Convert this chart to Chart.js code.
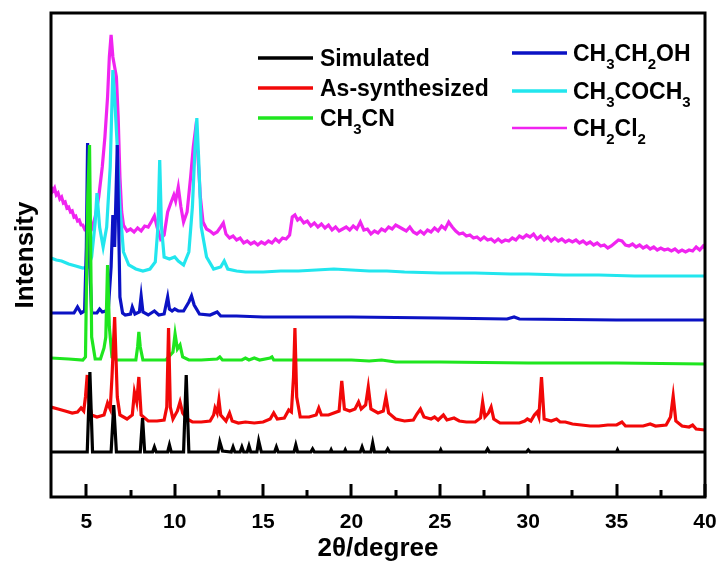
<!DOCTYPE html>
<html>
<head>
<meta charset="utf-8">
<title>PXRD patterns</title>
<script src="https://cdn.jsdelivr.net/npm/chart.js@4.4.1/dist/chart.umd.min.js"></script>
<style>
  body { margin: 0; background: #fff; }
  #wrap { width: 719px; height: 568px; }
</style>
</head>
<body>
<div id="wrap"><canvas id="xrdChart" width="719" height="568"></canvas></div>
<script>
// x ticks (2theta), major labelled + minor unlabelled
const xTicks = [5, 10, 15, 20, 25, 30, 35, 40];
const xMinorTicks = [7.5, 12.5, 17.5, 22.5, 27.5, 32.5, 37.5];

const seriesNames = ["Simulated", "As-synthesized", "CH₃CN", "CH₃CH₂OH", "CH₃COCH₃", "CH₂Cl₂"];
const seriesColors = ["#000000", "#f20808", "#1fe61f", "#0b12c4", "#22e6ee", "#f024f0"];

// [2theta, intensity (offset, a.u.)]
const simulated = [[3,45],[5.05,45],[5.2,125],[5.35,45],[6.4,45],[6.55,92],[6.7,45],[8.05,45],[8.18,79],[8.3,45],
  [8.75,45],[8.85,50],[8.95,45],[9.6,45],[9.7,52],[9.8,45],[10.5,45],[10.65,122],[10.8,45],[12.45,45],[12.55,55],
  [12.7,46],[13.2,45],[13.3,50],[13.4,45],[13.7,45],[13.8,50],[13.9,45],[14.1,45],[14.2,51],[14.3,45],[14.65,45],
  [14.75,56],[14.9,45],[15.65,45],[15.75,50],[15.85,45],[16.75,45],[16.85,52],[16.95,45],[17.7,45],[17.8,48],
  [17.9,45],[18.8,45],[18.85,47],[18.9,45],[19.6,45],[19.65,47],[19.7,45],[20.5,45],[20.6,50],[20.7,45],[21.1,45],
  [21.2,54],[21.3,45],[21.95,45],[22.05,48],[22.15,45],[25,45],[25.05,47],[25.1,45],[27.6,45],[27.7,48],[27.8,45],
  [29.9,45],[30.0,47],[30.1,45],[35,45],[35.05,47],[35.1,45],[40,45]];

const asSynthesized = [[3,90],[3.4,88],[3.8,86],[4.2,84],[4.5,85],[4.7,89],[4.85,86],[4.95,100],[5.05,122],[5.15,95],
  [5.3,82],[5.6,80],[6.0,82],[6.2,94],[6.35,88],[6.45,120],[6.6,180],[6.75,100],[6.9,82],[7.3,78],[7.6,82],[7.72,105],
  [7.85,95],[7.97,120],[8.1,82],[8.5,76],[9.0,76],[9.4,77],[9.55,90],[9.65,169],[9.75,90],[9.9,78],[10.15,86],
  [10.3,95],[10.45,84],[10.7,78],[11.0,75],[11.5,75],[12.0,76],[12.2,82],[12.28,89],[12.4,84],[12.5,97],[12.6,82],
  [12.9,76],[13.1,84],[13.25,76],[13.6,74],[14.0,75],[14.5,74],[15.0,75],[15.4,78],[15.6,84],[15.8,78],[16.2,79],
  [16.45,87],[16.6,85],[16.72,120],[16.8,169],[16.9,100],[17.1,80],[17.6,80],[18.0,82],[18.15,89],[18.3,82],
  [18.7,82],[19.0,84],[19.3,86],[19.45,116],[19.6,88],[19.9,86],[20.2,88],[20.4,95],[20.55,88],[20.8,92],[20.95,110],
  [21.1,88],[21.5,84],[21.8,86],[21.95,100],[22.1,84],[22.5,78],[23.0,76],[23.5,77],[23.7,83],[23.9,88],[24.1,80],
  [24.5,78],[24.7,80],[24.9,77],[25.2,82],[25.4,77],[25.8,79],[26.1,76],[26.5,75],[27.0,75],[27.3,79],[27.42,95],
  [27.55,80],[27.75,84],[27.9,90],[28.05,78],[28.4,74],[29.0,74],[29.5,74],[29.8,76],[29.95,78],[30.15,76],
  [30.35,82],[30.5,85],[30.6,80],[30.75,120],[30.9,78],[31.3,76],[31.6,78],[31.8,75],[32.1,75],[32.5,73],[33.0,72],
  [33.5,71],[34.0,71],[34.5,72],[35.0,72],[35.3,75],[35.5,71],[36.0,71],[36.5,71],[36.9,73],[37.2,71],[37.8,72],
  [38.05,80],[38.2,101],[38.35,76],[38.7,71],[39.1,70],[39.3,72],[39.5,68],[40,67]];

const acetonitrile = [[3,139],[4.0,138],[4.8,137],[4.95,140],[5.08,300],[5.18,352],[5.3,160],[5.5,138],[5.8,138],
  [6.0,149],[6.1,160],[6.2,232],[6.3,170],[6.45,140],[6.7,137],[7.2,137],[7.8,137],[7.9,150],[7.97,165],[8.05,150],
  [8.2,137],[8.8,137],[9.5,137],[9.9,145],[10.02,163],[10.15,148],[10.3,152],[10.45,140],[10.8,137],[11.5,137],
  [12.4,138],[12.55,140],[12.7,137],[13.8,137],[14.0,139],[14.2,137],[14.5,139],[14.8,137],[15.4,139],[15.5,140],
  [15.6,137],[16.5,137],[17.5,137],[20,137],[21.0,136],[21.7,137],[22.5,135],[25,135],[30,134],[35,134],[40,133]];

const ethanol = [[3,184],[3.8,184],[4.3,184],[4.5,190],[4.7,184],[4.9,186],[5.0,250],[5.07,354],[5.15,250],[5.3,184],
  [5.6,184],[5.75,188],[5.9,185],[6.1,186],[6.25,190],[6.4,230],[6.5,282],[6.6,250],[6.75,352],[6.9,200],[7.05,184],
  [7.2,182],[7.5,183],[7.6,190],[7.75,183],[8.0,185],[8.1,201],[8.2,185],[8.5,182],[8.85,186],[9.1,182],[9.4,183],
  [9.6,200],[9.7,188],[9.85,186],[10.0,188],[10.2,186],[10.5,186],[10.8,195],[10.95,201],[11.1,192],[11.4,183],
  [12.0,182],[12.4,185],[12.6,181],[13.5,181],[15,180],[20,180],[25,179],[28.8,178],[29.2,180],[29.5,178],[35,177],
  [40,177]];

const acetone = [[3,239],[3.3,237],[3.6,236],[4.0,233],[4.4,231],[4.8,229],[5.1,230],[5.3,240],[5.5,275],[5.6,304],
  [5.75,270],[5.95,250],[6.15,270],[6.35,330],[6.5,427],[6.6,400],[6.75,350],[6.9,290],[7.1,245],[7.4,232],[7.8,228],
  [8.2,226],[8.6,228],[8.9,235],[9.05,270],[9.15,337],[9.25,270],[9.4,240],[9.7,238],[10.0,240],[10.2,236],[10.5,232],
  [10.8,245],[11.0,290],[11.15,350],[11.25,379],[11.35,340],[11.5,270],[11.8,240],[12.2,228],[12.6,230],[12.8,236],
  [13.0,228],[13.5,226],[14.0,225],[15,225],[16,226],[17,226],[18,227],[19,228],[20,227],[21,226],[22,226],[23,225],
  [25,224],[27,224],[29,223],[30,223],[32,222],[34,222],[36,221],[38,221],[40,221]];

const dichloromethane = [[3,310],[3.1,306],[3.2,309],[3.3,302],[3.4,304],[3.5,298],[3.6,300],[3.7,294],[3.8,295],
  [3.9,289],[4.0,290],[4.1,285],[4.2,286],[4.3,280],[4.4,281],[4.5,276],[4.6,277],[4.7,272],[4.8,272],[4.9,268],
  [5.0,270],[5.1,266],[5.2,269],[5.3,268],[5.4,274],[5.5,280],[5.7,300],[5.9,330],[6.05,360],[6.2,400],[6.3,440],
  [6.4,462],[6.5,440],[6.6,430],[6.7,420],[6.8,380],[6.9,320],[7.0,285],[7.1,272],[7.3,266],[7.5,268],[7.7,265],
  [7.9,269],[8.1,266],[8.3,271],[8.5,270],[8.7,276],[8.85,281],[9.0,270],[9.2,258],[9.4,262],[9.6,285],[9.8,295],
  [9.95,302],[10.05,296],[10.2,310],[10.35,290],[10.5,275],[10.7,285],[10.9,320],[11.05,350],[11.15,364],[11.3,345],
  [11.45,300],[11.6,275],[11.8,268],[12.0,266],[12.2,263],[12.4,265],[12.6,270],[12.75,274],[12.9,263],[13.1,259],
  [13.3,261],[13.5,257],[13.7,259],[13.9,254],[14.1,256],[14.3,253],[14.5,255],[14.7,252],[14.9,255],[15.1,253],
  [15.3,256],[15.5,254],[15.7,258],[15.9,255],[16.1,259],[16.3,258],[16.5,262],[16.65,280],[16.8,282],[16.95,277],
  [17.1,279],[17.3,274],[17.5,276],[17.7,271],[17.9,274],[18.1,270],[18.3,273],[18.5,269],[18.7,272],[18.9,267],
  [19.1,270],[19.3,266],[19.5,268],[19.7,270],[19.9,267],[20.1,271],[20.3,268],[20.5,275],[20.7,267],[20.9,268],
  [21.1,263],[21.3,266],[21.5,264],[21.7,268],[21.9,266],[22.1,270],[22.3,268],[22.5,272],[22.7,270],[22.9,268],
  [23.1,266],[23.3,270],[23.5,265],[23.7,263],[23.9,266],[24.1,263],[24.3,267],[24.5,265],[24.7,269],[24.9,266],
  [25.1,271],[25.3,268],[25.5,275],[25.7,270],[25.9,266],[26.1,263],[26.3,264],[26.5,261],[26.7,262],[26.9,259],
  [27.1,260],[27.3,257],[27.5,260],[27.7,257],[27.9,258],[28.1,255],[28.3,258],[28.5,255],[28.7,257],[28.9,256],
  [29.1,259],[29.3,257],[29.5,261],[29.7,259],[29.9,262],[30.1,260],[30.3,263],[30.5,258],[30.7,261],[30.9,257],
  [31.1,260],[31.3,256],[31.5,259],[31.7,256],[31.9,258],[32.1,255],[32.3,257],[32.5,255],[32.7,257],[32.9,254],
  [33.1,256],[33.3,253],[33.5,255],[33.7,252],[33.9,254],[34.1,251],[34.3,252],[34.5,249],[34.7,251],[34.9,254],
  [35.1,257],[35.3,256],[35.5,252],[35.7,251],[35.9,253],[36.1,250],[36.3,252],[36.5,249],[36.7,251],[36.9,248],
  [37.1,250],[37.3,247],[37.5,249],[37.7,247],[37.9,248],[38.1,246],[38.3,248],[38.5,245],[38.7,247],[38.9,245],
  [39.1,247],[39.3,246],[39.5,250],[39.7,247],[39.9,251],[40,249]];

const allSeries = [simulated, asSynthesized, acetonitrile, ethanol, acetone, dichloromethane];

const FONT = "'Liberation Sans', Arial, Helvetica, sans-serif";
const SUBS = { "₀": "0", "₁": "1", "₂": "2", "₃": "3", "₄": "4" };

// legend slots: [lineX0, lineX1, lineY, textX]
const legendSlots = [[258, 313, 58, 320], [258, 313, 88, 320], [258, 313, 118, 320],
  [512, 567, 53, 573], [512, 567, 91, 573], [512, 567, 128, 573]];

// draws text with unicode subscripts as smaller lowered digits
function drawChem(ctx, text, x, y) {
    let cx = x;
    for (const ch of text) {
        if (SUBS[ch]) {
            ctx.font = "bold 15px " + FONT;
            ctx.fillText(SUBS[ch], cx, y + 8);
            cx += ctx.measureText(SUBS[ch]).width;
        } else {
            ctx.font = "bold 23px " + FONT;
            ctx.fillText(ch, cx, y);
            cx += ctx.measureText(ch).width;
        }
    }
}

const framePlugin = {
    id: "frameAndLegend",
    afterDraw(chart) {
        const { ctx, chartArea: a, scales } = chart;
        const xs = scales.x;
        ctx.save();
        ctx.strokeStyle = "#000";
        ctx.lineWidth = 3;
        ctx.strokeRect(a.left, a.top, a.right - a.left, a.bottom - a.top);
        // inward ticks
        ctx.beginPath();
        xTicks.forEach(v => {
            const px = Math.round(xs.getPixelForValue(v));
            ctx.moveTo(px, a.bottom);
            ctx.lineTo(px, a.bottom - 13);
        });
        xMinorTicks.forEach(v => {
            const px = Math.round(xs.getPixelForValue(v));
            ctx.moveTo(px, a.bottom);
            ctx.lineTo(px, a.bottom - 7);
        });
        ctx.stroke();

        // legend
        ctx.textBaseline = "alphabetic";
        ctx.fillStyle = "#000";
        chart.data.datasets.forEach((ds, i) => {
            const [x0, x1, ly, tx] = legendSlots[i];
            ctx.strokeStyle = ds.borderColor;
            ctx.lineWidth = i === 5 ? 2.5 : 3.5;
            ctx.beginPath();
            ctx.moveTo(x0, ly);
            ctx.lineTo(x1, ly);
            ctx.stroke();
            drawChem(ctx, ds.label, tx, ly + 8);
        });
        ctx.restore();
    }
};

const ctx = document.getElementById("xrdChart").getContext("2d");
const chart = new Chart(ctx, {
    type: "scatter",
    data: {
        datasets: allSeries.map((pts, i) => ({
            label: seriesNames[i],
            data: pts.map(p => ({ x: p[0], y: p[1] })),
            borderColor: seriesColors[i],
            backgroundColor: seriesColors[i],
            borderWidth: 3.2,
            showLine: true,
            pointRadius: 0,
            tension: 0
        }))
    },
    options: {
        responsive: false,
        animation: false,
        devicePixelRatio: 1,
        layout: { padding: { top: 13, right: 14, left: 0, bottom: 0 } },
        plugins: { legend: { display: false }, tooltip: { enabled: false } },
        scales: {
            x: {
                type: "linear",
                min: 3,
                max: 40,
                afterBuildTicks: s => { s.ticks = xTicks.map(v => ({ value: v })); },
                afterFit: s => { s.height = 71; s.paddingLeft = 0; s.paddingRight = 0; },
                grid: { display: false, drawTicks: false },
                border: { display: false },
                ticks: { color: "#000", padding: 13, font: { family: FONT, size: 21, weight: "bold" } },
                title: {
                    display: true,
                    text: "2θ/degree",
                    color: "#000",
                    padding: { top: 0, bottom: 4 },
                    font: { family: FONT, size: 26, weight: "bold" }
                }
            },
            y: {
                min: 0,
                max: 484,
                afterFit: s => { s.width = 51; },
                grid: { display: false, drawTicks: false },
                border: { display: false },
                ticks: { display: false },
                title: {
                    display: true,
                    text: "Intensity",
                    color: "#000",
                    padding: { top: 10, bottom: 0 },
                    font: { family: FONT, size: 26, weight: "bold" }
                }
            }
        }
    },
    plugins: [framePlugin]
});
</script>
</body>
</html>
